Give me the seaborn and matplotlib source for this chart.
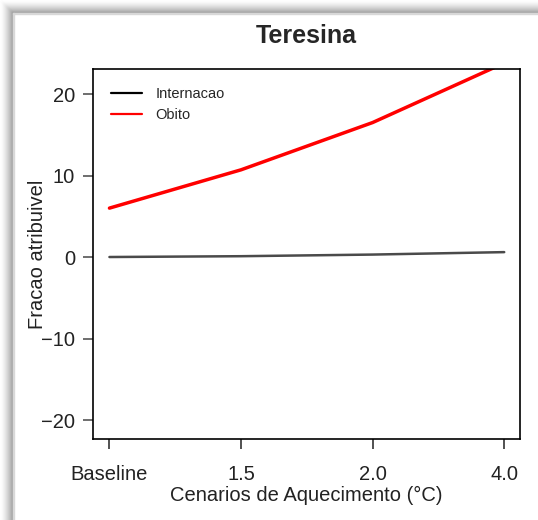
import pandas as pd
import matplotlib.pyplot as plt
import seaborn as sns
from matplotlib.patches import Rectangle

# Data
scenarios = ["Baseline", "1.5", "2.0", "4.0"]
internacao = [0.0, 0.1, 0.3, 0.6]
obito = [6.0, 10.7, 16.5, 23.8]

df = pd.DataFrame({
    "pos": list(range(1, 5)) * 2,
    "valor": internacao + obito,
    "desfecho": ["Internacao"] * 4 + ["Obito"] * 4,
})

sns.set_style("ticks")
plt.rcParams["font.family"] = ["Liberation Sans", "DejaVu Sans"]

fig = plt.figure(figsize=(5.38, 5.2), dpi=100)
fig.patch.set_facecolor("white")

# window-like shadow on the top and left edges
W, H = 538, 520
for i in range(13):
    g = 1.0 - 0.35 * (i / 12) ** 1.5
    c = (g, g, g)
    fig.patches.append(Rectangle((i / W, 0), 1 / W, 1 - i / H,
                                 transform=fig.transFigure, color=c, zorder=-5))
    fig.patches.append(Rectangle((i / W, 1 - (i + 1) / H), 1 - i / W, 1 / H,
                                 transform=fig.transFigure, color=c, zorder=-5))
fig.patches.append(Rectangle((13 / W, 0), 1 / W, 1 - 13 / H,
                             transform=fig.transFigure, color="#d8d8d8", zorder=-5))
fig.patches.append(Rectangle((13 / W, 1 - 14 / H), 1 - 13 / W, 1 / H,
                             transform=fig.transFigure, color="#d8d8d8", zorder=-5))

ax = fig.add_axes([93 / W, 1 - 439 / H, (520 - 93) / W, (439 - 69) / H])

sns.lineplot(data=df, x="pos", y="valor", hue="desfecho",
             palette={"Internacao": "#4a4a4a", "Obito": "#ff0000"},
             ax=ax, legend=False)
for line, lw in zip(ax.lines, [1.8, 2.5]):
    line.set_linewidth(lw)

ax.set_xlim(0.875, 4.12)
ax.set_ylim(-22.33, 23.07)
ax.set_xticks(range(1, 5))
ax.set_xticklabels(scenarios)
ax.set_yticks([-20, -10, 0, 10, 20])
ax.set_yticklabels(["\u221220", "\u221210", "0", "10", "20"])

for s in ax.spines.values():
    s.set_visible(True)
    s.set_linewidth(1.2)
    s.set_color("black")

ax.tick_params(axis="x", length=7, width=1.2, color="#333333", pad=12,
               labelsize=14.5, labelcolor="#222222")
ax.tick_params(axis="y", length=7, width=1.2, color="#555555", pad=6,
               labelsize=14.5, labelcolor="#222222")

ax.set_xlabel("Cenarios de Aquecimento (\u00b0C)", fontsize=14.5, color="#222222")
ax.set_ylabel("Fracao atribuivel", fontsize=14.5, color="#222222")
ax.xaxis.set_label_coords(0.5, -0.128)
ax.yaxis.set_label_coords(-0.108, 0.5)
ax.set_title("Teresina", fontsize=18, fontweight="bold", pad=19)

ax.plot([], [], color="black", lw=1.6, label="Internacao")
ax.plot([], [], color="#ff0000", lw=1.6, label="Obito")
ax.legend(loc="upper left", frameon=False, fontsize=10.5, handlelength=2.1,
          handletextpad=0.95, labelspacing=0.46, borderpad=0.4,
          borderaxespad=0.84, bbox_to_anchor=(0.0, 1.0))

fig.savefig("out.png", dpi=100)
